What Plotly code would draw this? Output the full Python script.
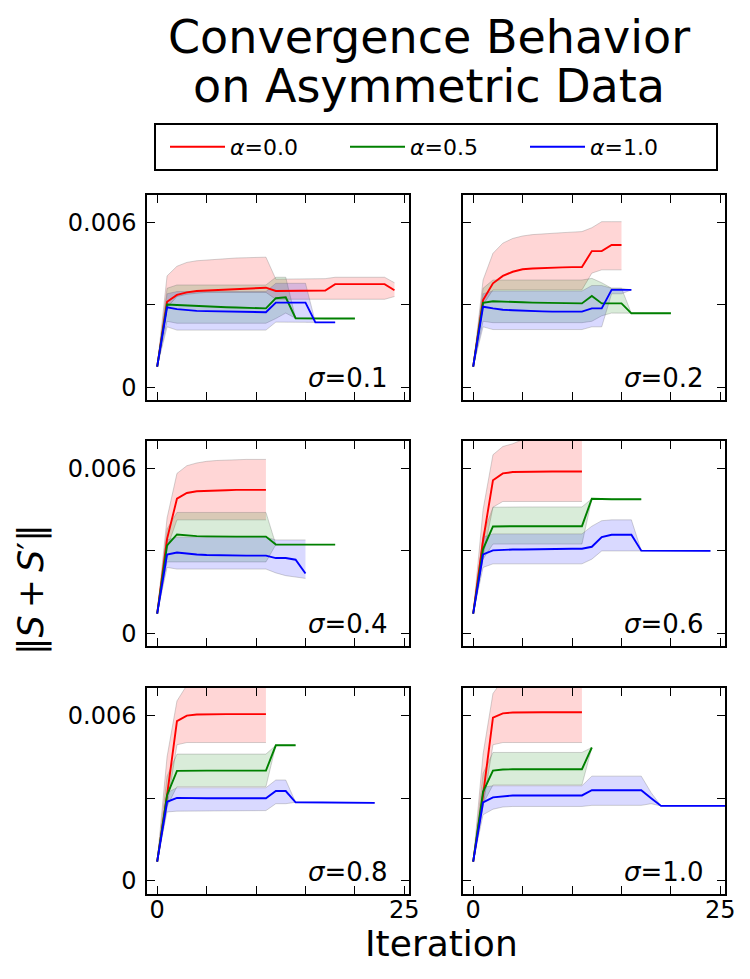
import plotly.graph_objects as go

# ---------------- data ----------------
sigma_labels = ["0.1", "0.2", "0.4", "0.6", "0.8", "1.0"]
alpha_labels = ["0.0", "0.5", "1.0"]
y_tick_vals = [0, 0.003, 0.006]
y_tick_text = ["0", "", "0.006"]
x_tick_vals = [0, 5, 10, 15, 20, 25]
x_tick_text = ["0", "", "", "", "", "25"]

# sigma = 0.1
s01_r = [0.00075, 0.00311, 0.00336, 0.00345, 0.00350, 0.00352, 0.00354, 0.00356, 0.00358, 0.00360, 0.00361, 0.00362, 0.00350, 0.00350, 0.00350, 0.00350, 0.00350, 0.00352, 0.00375, 0.00375, 0.00375, 0.00375, 0.00375, 0.00375, 0.00353]
s01_r_hi = [0.00075, 0.00405, 0.00440, 0.00454, 0.00460, 0.00463, 0.00466, 0.00468, 0.00470, 0.00471, 0.00472, 0.00473, 0.00393, 0.00393, 0.00393, 0.00393, 0.00393, 0.00395, 0.00400, 0.00400, 0.00400, 0.00400, 0.00400, 0.00400, 0.00380]
s01_r_lo = [0.00075, 0.00290, 0.00330, 0.00338, 0.00342, 0.00345, 0.00345, 0.00345, 0.00345, 0.00345, 0.00345, 0.00345, 0.00320, 0.00320, 0.00320, 0.00320, 0.00320, 0.00320, 0.00320, 0.00320, 0.00320, 0.00320, 0.00320, 0.00320, 0.00330]
s01_g = [0.00075, 0.00301, 0.00299, 0.00297, 0.00295, 0.00293, 0.00292, 0.00291, 0.00290, 0.00289, 0.00288, 0.00287, 0.00324, 0.00327, 0.00251, 0.00250, 0.00250, 0.00250, 0.00250, 0.00250, 0.00250]
s01_g_hi = [0.00075, 0.00360, 0.00372, 0.00372, 0.00372, 0.00372, 0.00372, 0.00372, 0.00372, 0.00372, 0.00372, 0.00372, 0.00400, 0.00400, 0.00251, 0.00250, 0.00250, 0.00250, 0.00250, 0.00250, 0.00250]
s01_g_lo = [0.00075, 0.00240, 0.00233, 0.00233, 0.00233, 0.00233, 0.00233, 0.00233, 0.00233, 0.00233, 0.00233, 0.00233, 0.00250, 0.00270, 0.00251, 0.00250, 0.00250, 0.00250, 0.00250, 0.00250, 0.00250]
s01_b = [0.00075, 0.00291, 0.00284, 0.00280, 0.00278, 0.00277, 0.00276, 0.00275, 0.00274, 0.00274, 0.00273, 0.00273, 0.00308, 0.00308, 0.00308, 0.00308, 0.00236, 0.00236, 0.00236]
s01_b_hi = [0.00075, 0.00340, 0.00348, 0.00348, 0.00348, 0.00348, 0.00348, 0.00348, 0.00348, 0.00348, 0.00348, 0.00348, 0.00378, 0.00378, 0.00378, 0.00378, 0.00236, 0.00236, 0.00236]
s01_b_lo = [0.00075, 0.00220, 0.00208, 0.00208, 0.00208, 0.00208, 0.00208, 0.00208, 0.00208, 0.00208, 0.00208, 0.00208, 0.00237, 0.00237, 0.00237, 0.00237, 0.00236, 0.00236, 0.00236]

# sigma = 0.2
s02_r = [0.00075, 0.00317, 0.00378, 0.00405, 0.00420, 0.00429, 0.00432, 0.00434, 0.00435, 0.00436, 0.00437, 0.00437, 0.00495, 0.00495, 0.00517, 0.00517]
s02_r_hi = [0.00075, 0.00390, 0.00487, 0.00524, 0.00541, 0.00550, 0.00555, 0.00558, 0.00560, 0.00562, 0.00564, 0.00566, 0.00580, 0.00602, 0.00602, 0.00602]
s02_r_lo = [0.00075, 0.00300, 0.00354, 0.00354, 0.00354, 0.00354, 0.00354, 0.00354, 0.00354, 0.00354, 0.00354, 0.00354, 0.00415, 0.00427, 0.00427, 0.00427]
s02_g = [0.00075, 0.00307, 0.00313, 0.00311, 0.00310, 0.00309, 0.00308, 0.00307, 0.00306, 0.00305, 0.00305, 0.00305, 0.00332, 0.00305, 0.00305, 0.00305, 0.00269, 0.00269, 0.00269, 0.00269, 0.00269]
s02_g_hi = [0.00075, 0.00360, 0.00390, 0.00390, 0.00390, 0.00390, 0.00390, 0.00390, 0.00390, 0.00390, 0.00390, 0.00390, 0.00396, 0.00380, 0.00360, 0.00360, 0.00269, 0.00269, 0.00269, 0.00269, 0.00269]
s02_g_lo = [0.00075, 0.00240, 0.00235, 0.00235, 0.00235, 0.00235, 0.00235, 0.00235, 0.00235, 0.00235, 0.00235, 0.00235, 0.00240, 0.00260, 0.00270, 0.00270, 0.00269, 0.00269, 0.00269, 0.00269, 0.00269]
s02_b = [0.00075, 0.00293, 0.00287, 0.00282, 0.00280, 0.00278, 0.00277, 0.00276, 0.00275, 0.00275, 0.00275, 0.00275, 0.00287, 0.00287, 0.00354, 0.00354, 0.00354]
s02_b_hi = [0.00075, 0.00340, 0.00350, 0.00350, 0.00350, 0.00350, 0.00350, 0.00350, 0.00350, 0.00350, 0.00350, 0.00350, 0.00370, 0.00370, 0.00360, 0.00360, 0.00354]
s02_b_lo = [0.00075, 0.00220, 0.00210, 0.00210, 0.00210, 0.00210, 0.00210, 0.00210, 0.00210, 0.00210, 0.00210, 0.00210, 0.00220, 0.00220, 0.00340, 0.00340, 0.00354]

# sigma = 0.4
s04_r = [0.00072, 0.00344, 0.00490, 0.00511, 0.00517, 0.00519, 0.00520, 0.00521, 0.00522, 0.00522, 0.00522, 0.00522]
s04_r_hi = [0.00072, 0.00420, 0.00582, 0.00610, 0.00620, 0.00626, 0.00629, 0.00631, 0.00632, 0.00633, 0.00633, 0.00633]
s04_r_lo = [0.00072, 0.00310, 0.00413, 0.00413, 0.00413, 0.00413, 0.00413, 0.00413, 0.00413, 0.00413, 0.00413, 0.00413]
s04_g = [0.00072, 0.00320, 0.00360, 0.00356, 0.00354, 0.00353, 0.00352, 0.00352, 0.00352, 0.00352, 0.00352, 0.00352, 0.00323, 0.00323, 0.00323, 0.00323, 0.00323, 0.00323, 0.00323]
s04_g_hi = [0.00072, 0.00380, 0.00440, 0.00440, 0.00440, 0.00440, 0.00440, 0.00440, 0.00440, 0.00440, 0.00440, 0.00440, 0.00323, 0.00323, 0.00323, 0.00323, 0.00323, 0.00323, 0.00323]
s04_g_lo = [0.00072, 0.00260, 0.00260, 0.00260, 0.00260, 0.00260, 0.00260, 0.00260, 0.00260, 0.00260, 0.00260, 0.00260, 0.00323, 0.00323, 0.00323, 0.00323, 0.00323, 0.00323, 0.00323]
s04_b = [0.00072, 0.00287, 0.00294, 0.00290, 0.00287, 0.00285, 0.00284, 0.00283, 0.00283, 0.00283, 0.00283, 0.00283, 0.00274, 0.00274, 0.00268, 0.00218]
s04_b_hi = [0.00072, 0.00340, 0.00350, 0.00350, 0.00350, 0.00350, 0.00350, 0.00350, 0.00350, 0.00350, 0.00350, 0.00350, 0.00340, 0.00340, 0.00340, 0.00340]
s04_b_lo = [0.00072, 0.00240, 0.00234, 0.00234, 0.00234, 0.00234, 0.00234, 0.00234, 0.00234, 0.00234, 0.00234, 0.00234, 0.00220, 0.00210, 0.00205, 0.00200]

# sigma = 0.6
s06_r = [0.00072, 0.00338, 0.00557, 0.00582, 0.00587, 0.00588, 0.00589, 0.00589, 0.00589, 0.00589, 0.00589, 0.00589]
s06_r_hi = [0.00072, 0.00450, 0.00650, 0.00680, 0.00690, 0.00705, 0.00710, 0.00710, 0.00710, 0.00710, 0.00710, 0.00710]
s06_r_lo = [0.00072, 0.00280, 0.00459, 0.00480, 0.00480, 0.00480, 0.00480, 0.00480, 0.00480, 0.00480, 0.00480, 0.00480]
s06_g = [0.00072, 0.00307, 0.00389, 0.00390, 0.00390, 0.00390, 0.00390, 0.00390, 0.00390, 0.00390, 0.00390, 0.00390, 0.00490, 0.00488, 0.00488, 0.00488, 0.00488, 0.00488]
s06_g_hi = [0.00072, 0.00360, 0.00459, 0.00460, 0.00460, 0.00460, 0.00460, 0.00460, 0.00460, 0.00460, 0.00460, 0.00460, 0.00490, 0.00488, 0.00488, 0.00488, 0.00488, 0.00488]
s06_g_lo = [0.00072, 0.00270, 0.00325, 0.00325, 0.00325, 0.00325, 0.00325, 0.00325, 0.00325, 0.00325, 0.00325, 0.00325, 0.00490, 0.00488, 0.00488, 0.00488, 0.00488, 0.00488]
s06_b = [0.00072, 0.00287, 0.00302, 0.00304, 0.00305, 0.00305, 0.00306, 0.00306, 0.00307, 0.00307, 0.00308, 0.00308, 0.00315, 0.00350, 0.00359, 0.00359, 0.00359, 0.00301, 0.00301, 0.00301, 0.00301, 0.00301, 0.00300, 0.00300, 0.00300]
s06_b_hi = [0.00072, 0.00350, 0.00362, 0.00362, 0.00362, 0.00362, 0.00362, 0.00362, 0.00362, 0.00362, 0.00362, 0.00362, 0.00390, 0.00410, 0.00413, 0.00413, 0.00413, 0.00301, 0.00301, 0.00301, 0.00301, 0.00301, 0.00300, 0.00300, 0.00300]
s06_b_lo = [0.00072, 0.00240, 0.00253, 0.00253, 0.00253, 0.00253, 0.00253, 0.00253, 0.00253, 0.00253, 0.00253, 0.00253, 0.00270, 0.00300, 0.00300, 0.00300, 0.00300, 0.00301, 0.00301, 0.00301, 0.00301, 0.00301, 0.00300, 0.00300, 0.00300]

# sigma = 0.8
s08_r = [0.00070, 0.00311, 0.00580, 0.00600, 0.00604, 0.00605, 0.00605, 0.00605, 0.00605, 0.00605, 0.00605, 0.00605]
s08_r_hi = [0.00070, 0.00450, 0.00653, 0.00710, 0.00730, 0.00740, 0.00740, 0.00740, 0.00740, 0.00740, 0.00740, 0.00740]
s08_r_lo = [0.00070, 0.00270, 0.00494, 0.00502, 0.00502, 0.00502, 0.00502, 0.00502, 0.00502, 0.00502, 0.00502, 0.00502]
s08_g = [0.00070, 0.00311, 0.00399, 0.00400, 0.00400, 0.00400, 0.00400, 0.00400, 0.00400, 0.00400, 0.00400, 0.00400, 0.00492, 0.00492, 0.00492]
s08_g_hi = [0.00070, 0.00380, 0.00460, 0.00460, 0.00460, 0.00460, 0.00460, 0.00460, 0.00460, 0.00460, 0.00460, 0.00460, 0.00492, 0.00492, 0.00492]
s08_g_lo = [0.00070, 0.00270, 0.00342, 0.00342, 0.00342, 0.00342, 0.00342, 0.00342, 0.00342, 0.00342, 0.00342, 0.00342, 0.00492, 0.00492, 0.00492]
s08_b = [0.00070, 0.00287, 0.00301, 0.00300, 0.00300, 0.00300, 0.00300, 0.00300, 0.00300, 0.00300, 0.00300, 0.00300, 0.00326, 0.00326, 0.00285, 0.00285, 0.00284, 0.00284, 0.00284, 0.00283, 0.00283, 0.00283, 0.00283]
s08_b_hi = [0.00070, 0.00320, 0.00338, 0.00338, 0.00338, 0.00338, 0.00338, 0.00338, 0.00338, 0.00338, 0.00338, 0.00338, 0.00366, 0.00366, 0.00285, 0.00285, 0.00284, 0.00284, 0.00284, 0.00283, 0.00283, 0.00283, 0.00283]
s08_b_lo = [0.00070, 0.00250, 0.00253, 0.00253, 0.00253, 0.00253, 0.00253, 0.00253, 0.00253, 0.00253, 0.00253, 0.00255, 0.00280, 0.00280, 0.00285, 0.00285, 0.00284, 0.00284, 0.00284, 0.00283, 0.00283, 0.00283, 0.00283]

# sigma = 1.0
s10_r = [0.00070, 0.00311, 0.00592, 0.00608, 0.00611, 0.00612, 0.00612, 0.00612, 0.00612, 0.00612, 0.00612, 0.00612]
s10_r_hi = [0.00070, 0.00460, 0.00680, 0.00730, 0.00740, 0.00745, 0.00745, 0.00745, 0.00745, 0.00745, 0.00745, 0.00745]
s10_r_lo = [0.00070, 0.00270, 0.00494, 0.00502, 0.00502, 0.00502, 0.00502, 0.00502, 0.00502, 0.00502, 0.00502, 0.00502]
s10_g = [0.00070, 0.00323, 0.00400, 0.00404, 0.00405, 0.00405, 0.00405, 0.00405, 0.00405, 0.00405, 0.00405, 0.00405, 0.00484]
s10_g_hi = [0.00070, 0.00390, 0.00466, 0.00466, 0.00466, 0.00466, 0.00466, 0.00466, 0.00466, 0.00466, 0.00466, 0.00466, 0.00484]
s10_g_lo = [0.00070, 0.00280, 0.00348, 0.00348, 0.00348, 0.00348, 0.00348, 0.00348, 0.00348, 0.00348, 0.00348, 0.00348, 0.00484]
s10_b = [0.00070, 0.00285, 0.00303, 0.00306, 0.00310, 0.00310, 0.00310, 0.00310, 0.00310, 0.00310, 0.00310, 0.00310, 0.00329, 0.00329, 0.00329, 0.00329, 0.00329, 0.00329, 0.00300, 0.00272, 0.00272, 0.00272, 0.00272, 0.00272, 0.00272, 0.00272, 0.00272]
s10_b_hi = [0.00070, 0.00340, 0.00345, 0.00345, 0.00345, 0.00345, 0.00345, 0.00345, 0.00345, 0.00345, 0.00345, 0.00345, 0.00380, 0.00380, 0.00380, 0.00380, 0.00380, 0.00380, 0.00320, 0.00272, 0.00272, 0.00272, 0.00272, 0.00272, 0.00272, 0.00272, 0.00272]
s10_b_lo = [0.00070, 0.00240, 0.00260, 0.00268, 0.00270, 0.00270, 0.00270, 0.00270, 0.00270, 0.00270, 0.00270, 0.00270, 0.00274, 0.00274, 0.00274, 0.00274, 0.00274, 0.00274, 0.00280, 0.00272, 0.00272, 0.00272, 0.00272, 0.00272, 0.00272, 0.00272, 0.00272]

panels = [
    [(s01_r, s01_r_lo, s01_r_hi), (s01_g, s01_g_lo, s01_g_hi), (s01_b, s01_b_lo, s01_b_hi)],
    [(s02_r, s02_r_lo, s02_r_hi), (s02_g, s02_g_lo, s02_g_hi), (s02_b, s02_b_lo, s02_b_hi)],
    [(s04_r, s04_r_lo, s04_r_hi), (s04_g, s04_g_lo, s04_g_hi), (s04_b, s04_b_lo, s04_b_hi)],
    [(s06_r, s06_r_lo, s06_r_hi), (s06_g, s06_g_lo, s06_g_hi), (s06_b, s06_b_lo, s06_b_hi)],
    [(s08_r, s08_r_lo, s08_r_hi), (s08_g, s08_g_lo, s08_g_hi), (s08_b, s08_b_lo, s08_b_hi)],
    [(s10_r, s10_r_lo, s10_r_hi), (s10_g, s10_g_lo, s10_g_hi), (s10_b, s10_b_lo, s10_b_hi)],
]

# ---------------- styling ----------------
W, H = 750, 979
FONT = "DejaVu Sans"
line_colors = ["#ff0000", "#008000", "#0000ff"]
fill_colors = ["rgba(255,0,0,0.16)", "rgba(0,128,0,0.15)", "rgba(0,0,255,0.15)"]
edge_color = "rgba(110,110,110,0.30)"
col_px = [(147.3, 409.3), (463.3, 725.3)]
row_px = [(194.7, 400.0), (441.0, 646.0), (688.0, 893.5)]
X_RANGE = [-1.0, 25.5]
Y_RANGE = [-0.00046, 0.0070]


def sfx(k):
    return "" if k == 0 else str(k + 1)


fig = go.Figure()

for k, series in enumerate(panels):
    xa, ya = "x" + sfx(k), "y" + sfx(k)
    # bands first (drawn beneath every line)
    for j, (mean, lo, hi) in enumerate(series):
        xs = list(range(len(mean)))
        fig.add_trace(go.Scatter(x=xs, y=lo, xaxis=xa, yaxis=ya, mode="lines",
                                 line=dict(color=edge_color, width=1),
                                 showlegend=False, hoverinfo="skip"))
        fig.add_trace(go.Scatter(x=xs, y=hi, xaxis=xa, yaxis=ya, mode="lines",
                                 line=dict(color=edge_color, width=1),
                                 fill="tonexty", fillcolor=fill_colors[j],
                                 showlegend=False, hoverinfo="skip"))
    for j, (mean, lo, hi) in enumerate(series):
        xs = list(range(len(mean)))
        fig.add_trace(go.Scatter(x=xs, y=mean, xaxis=xa, yaxis=ya, mode="lines",
                                 line=dict(color=line_colors[j], width=1.9),
                                 name="<i>α</i>=" + alpha_labels[j],
                                 showlegend=(k == 0)))

layout = dict(
    width=W, height=H,
    margin=dict(l=0, r=0, t=0, b=0),
    paper_bgcolor="white", plot_bgcolor="white",
    font=dict(family=FONT, color="black"),
    showlegend=True,
    legend=dict(orientation="h", traceorder="normal",
                x=165 / W, xanchor="left", y=1 - 147 / H, yanchor="middle",
                bgcolor="rgba(0,0,0,0)", borderwidth=0, font=dict(size=22, family=FONT),
                itemwidth=55, entrywidth=110, entrywidthmode="pixels"),
    shapes=[dict(type="rect", xref="paper", yref="paper",
                 x0=155 / W, x1=717 / W, y0=1 - 170 / H, y1=1 - 124 / H,
                 line=dict(color="black", width=2), fillcolor="rgba(0,0,0,0)", layer="above")],
)

annotations = [
    dict(text="Convergence Behavior", x=429 / W, y=1 - 37 / H, xref="paper", yref="paper",
         showarrow=False, xanchor="center", yanchor="middle", font=dict(size=46, family=FONT)),
    dict(text="on Asymmetric Data", x=429 / W, y=1 - 86 / H, xref="paper", yref="paper",
         showarrow=False, xanchor="center", yanchor="middle", font=dict(size=46, family=FONT)),
    dict(text="Iteration", x=441 / W, y=1 - 943 / H, xref="paper", yref="paper",
         showarrow=False, xanchor="center", yanchor="middle", font=dict(size=36, family=FONT)),
    dict(text="‖<i>S</i>\u2009+\u2009<i>S</i>′‖", x=31 / W, y=1 - 590 / H, xref="paper", yref="paper",
         showarrow=False, xanchor="center", yanchor="middle", textangle=-90,
         font=dict(size=35, family=FONT)),
]

for k in range(6):
    r, c = divmod(k, 2)
    s = sfx(k)
    x0, x1 = col_px[c]
    y0, y1 = row_px[r]
    common = dict(showline=True, linewidth=2, linecolor="black", mirror="ticks",
                  ticks="inside", ticklen=8, tickwidth=1, tickcolor="black",
                  showgrid=False, zeroline=False, automargin=False,
                  tickfont=dict(size=24, family=FONT, color="black"))
    layout["xaxis" + s] = dict(domain=[x0 / W, x1 / W], range=X_RANGE, anchor="y" + s,
                               tickmode="array", tickvals=x_tick_vals, ticktext=x_tick_text,
                               showticklabels=(r == 2), ticklabelstandoff=-6, **common)
    layout["yaxis" + s] = dict(domain=[1 - y1 / H, 1 - y0 / H], range=Y_RANGE, anchor="x" + s,
                               tickmode="array", tickvals=y_tick_vals, ticktext=y_tick_text,
                               showticklabels=(c == 0), ticklabelstandoff=4, **common)
    annotations.append(dict(text="<i>σ</i>=" + sigma_labels[k], x=0.925, y=0.105,
                            xref="x" + s + " domain", yref="y" + s + " domain",
                            showarrow=False, xanchor="right", yanchor="middle",
                            font=dict(size=26, family=FONT)))

layout["annotations"] = annotations
fig.update_layout(**layout)
fig.write_html("out.html")
